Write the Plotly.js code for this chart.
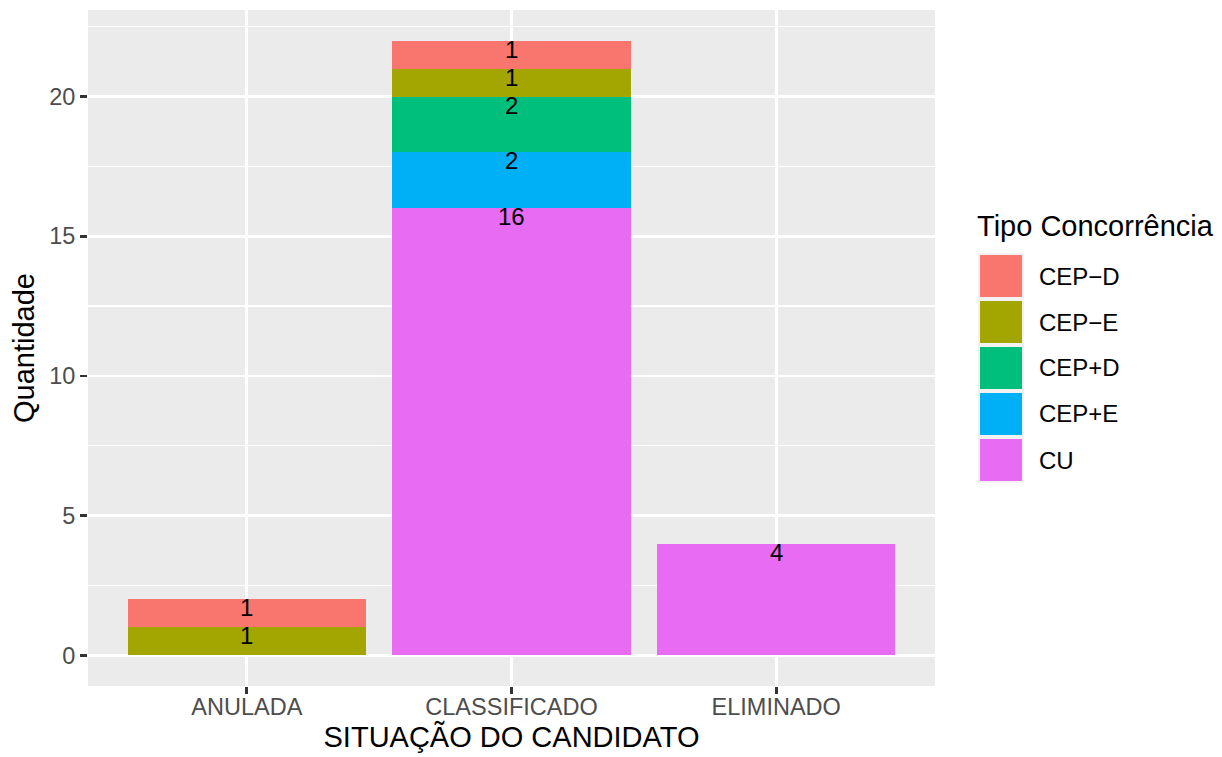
<!DOCTYPE html>
<html>
<head>
<meta charset="utf-8">
<script src="https://cdn.plot.ly/plotly-3.0.1.min.js"></script>
<style>
html,body{margin:0;padding:0;background:#fff;}
#chart{width:1222px;height:757px;}
</style>
</head>
<body>
<div id="chart"></div>
<script>
// ---- data ----
const categories = ['ANULADA', 'CLASSIFICADO', 'ELIMINADO'];
const seriesNames = ['CEP\u2212D', 'CEP\u2212E', 'CEP+D', 'CEP+E', 'CU'];
const seriesColors = ['#F8766D', '#A3A500', '#00BF7D', '#00B0F6', '#E76BF3'];
const cepMinusD = [1, 1, 0];
const cepMinusE = [1, 1, 0];
const cepPlusD  = [0, 2, 0];
const cepPlusE  = [0, 2, 0];
const cu        = [0, 16, 4];
const yTicks = [0, 5, 10, 15, 20];

const seriesValues = [cepMinusD, cepMinusE, cepPlusD, cepPlusE, cu];

// stacking order: bottom first (CU) ... top last (CEP-D)
const stackOrder = [4, 3, 2, 1, 0];

const FONT = 'Liberation Sans, Arial, sans-serif';

const traces = stackOrder.map(i => ({
  type: 'bar',
  x: categories,
  y: seriesValues[i],
  name: seriesNames[i],
  marker: {color: seriesColors[i], line: {width: 0}},
  width: 0.9,
  showlegend: false,
  hoverinfo: 'x+y+name'
}));

// value labels at the top of each stacked segment
const annotations = [];
const cum = categories.map(() => 0);
stackOrder.forEach(i => {
  seriesValues[i].forEach((v, j) => {
    cum[j] += v;
    if (v > 0) {
      annotations.push({
        x: categories[j], y: cum[j], xref: 'x', yref: 'y',
        text: String(v), showarrow: false, yanchor: 'top', xanchor: 'center',
        yshift: 7,
        font: {family: FONT, size: 24, color: '#000000'}
      });
    }
  });
});

// plot area in pixels
const L = 88, R = 935, T = 10, B = 686, W = 1222, H = 757;
const px2x = p => (p - L) / (R - L);
const py2y = p => (B - p) / (B - T);

// ggplot-style legend
const shapes = [];
const keyLeft = 978, keyTop = 253, keyStep = 46, keySize = 46;
shapes.push({
  type: 'rect', xref: 'paper', yref: 'paper',
  x0: px2x(keyLeft), x1: px2x(keyLeft + keySize),
  y0: py2y(keyTop), y1: py2y(keyTop + keyStep * seriesNames.length),
  fillcolor: '#F2F2F2', line: {width: 0}, layer: 'above'
});
seriesNames.forEach((n, k) => {
  const top = keyTop + k * keyStep;
  shapes.push({
    type: 'rect', xref: 'paper', yref: 'paper',
    x0: px2x(keyLeft + 2), x1: px2x(keyLeft + keySize - 2),
    y0: py2y(top + 2), y1: py2y(top + keySize - 2),
    fillcolor: seriesColors[k], line: {width: 0}, layer: 'above'
  });
  annotations.push({
    xref: 'paper', yref: 'paper',
    x: px2x(1037), y: py2y(top + keySize / 2),
    xanchor: 'left', yanchor: 'middle', showarrow: false,
    text: n,
    font: {family: FONT, size: 24, color: '#000000'}
  });
});
annotations.push({
  xref: 'paper', yref: 'paper',
  x: px2x(975), y: py2y(226),
  xanchor: 'left', yanchor: 'middle', showarrow: false,
  text: 'Tipo Concorrência',
  font: {family: FONT, size: 29, color: '#000000'}
});

const layout = {
  width: W, height: H,
  margin: {l: L, r: W - R, t: T, b: H - B, pad: 0},
  paper_bgcolor: '#FFFFFF',
  plot_bgcolor: '#EBEBEB',
  barmode: 'stack',
  bargap: 0.1,
  showlegend: false,
  font: {family: FONT, color: '#4D4D4D'},
  xaxis: {
    type: 'category',
    categoryorder: 'array', categoryarray: categories,
    range: [-0.6, 2.6],
    showgrid: true, gridcolor: '#FFFFFF', gridwidth: 2.7,
    zeroline: false, showline: false,
    ticks: 'outside', ticklen: 7, tickwidth: 2.7, tickcolor: '#333333',
    ticklabelstandoff: -7,
    tickfont: {size: 23.5, color: '#4D4D4D'},
    title: {text: 'SITUAÇÃO DO CANDIDATO', font: {size: 29, color: '#000000'}, standoff: 4}
  },
  yaxis: {
    range: [-1.1, 23.1],
    tickmode: 'array', tickvals: yTicks, ticktext: yTicks.map(String),
    showgrid: true, gridcolor: '#FFFFFF', gridwidth: 2.7,
    minor: {dtick: 2.5, tick0: 0, showgrid: true, gridcolor: '#FFFFFF', gridwidth: 1.4, ticks: ''},
    zeroline: false, showline: false,
    ticks: 'outside', ticklen: 7, tickwidth: 2.7, tickcolor: '#333333',
    tickfont: {size: 23.5, color: '#4D4D4D'},
    title: {text: 'Quantidade', font: {size: 29, color: '#000000'}, standoff: 6}
  },
  annotations: annotations,
  shapes: shapes
};

Plotly.newPlot('chart', traces, layout, {displayModeBar: false, staticPlot: true});
</script>
</body>
</html>
